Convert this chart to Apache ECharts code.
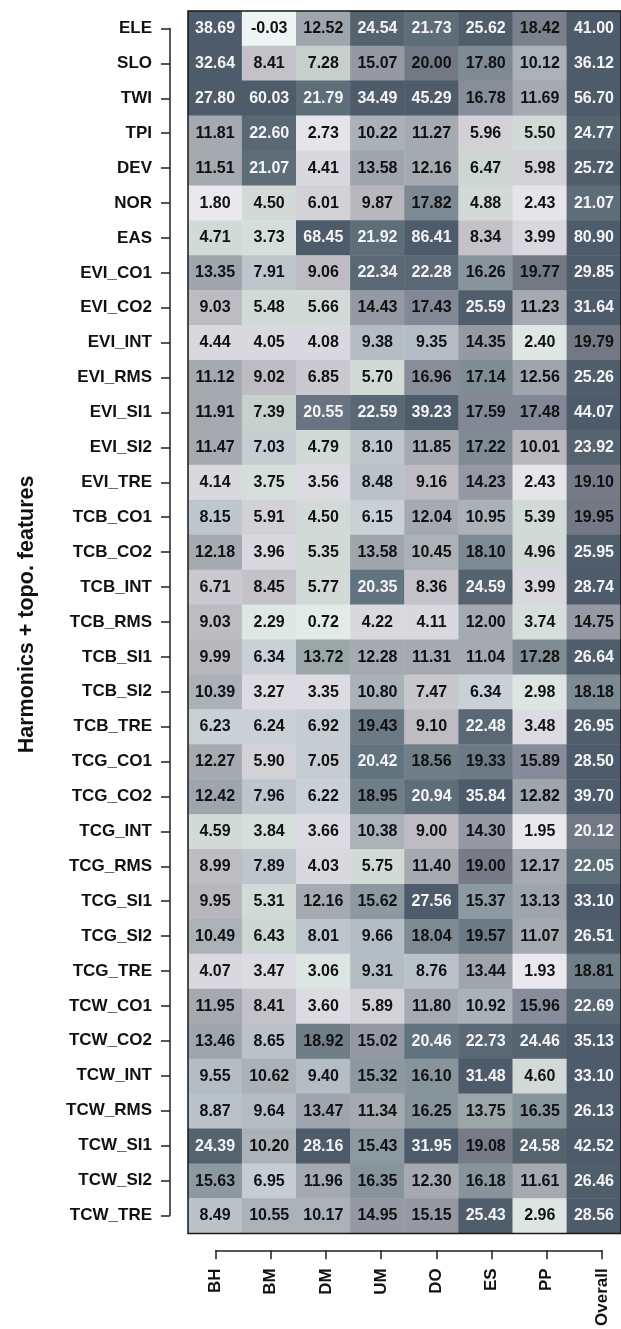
<!DOCTYPE html>
<html>
<head>
<meta charset="utf-8">
<script src="https://cdn.jsdelivr.net/npm/echarts@6/dist/echarts.min.js"></script>
<style>
html,body{margin:0;padding:0;background:#fff;}
#chart{width:621px;height:1329px;}
</style>
</head>
<body>
<div id="chart"></div>
<script>
const features = ['ELE','SLO','TWI','TPI','DEV','NOR','EAS','EVI_CO1','EVI_CO2','EVI_INT','EVI_RMS','EVI_SI1','EVI_SI2','EVI_TRE','TCB_CO1','TCB_CO2','TCB_INT','TCB_RMS','TCB_SI1','TCB_SI2','TCB_TRE','TCG_CO1','TCG_CO2','TCG_INT','TCG_RMS','TCG_SI1','TCG_SI2','TCG_TRE','TCW_CO1','TCW_CO2','TCW_INT','TCW_RMS','TCW_SI1','TCW_SI2','TCW_TRE'];
const groups = ['BH','BM','DM','UM','DO','ES','PP','Overall'];

const BH = [38.69,32.64,27.80,11.81,11.51,1.80,4.71,13.35,9.03,4.44,11.12,11.91,11.47,4.14,8.15,12.18,6.71,9.03,9.99,10.39,6.23,12.27,12.42,4.59,8.99,9.95,10.49,4.07,11.95,13.46,9.55,8.87,24.39,15.63,8.49];
const BM = [-0.03,8.41,60.03,22.60,21.07,4.50,3.73,7.91,5.48,4.05,9.02,7.39,7.03,3.75,5.91,3.96,8.45,2.29,6.34,3.27,6.24,5.90,7.96,3.84,7.89,5.31,6.43,3.47,8.41,8.65,10.62,9.64,10.20,6.95,10.55];
const DM = [12.52,7.28,21.79,2.73,4.41,6.01,68.45,9.06,5.66,4.08,6.85,20.55,4.79,3.56,4.50,5.35,5.77,0.72,13.72,3.35,6.92,7.05,6.22,3.66,4.03,12.16,8.01,3.06,3.60,18.92,9.40,13.47,28.16,11.96,10.17];
const UM = [24.54,15.07,34.49,10.22,13.58,9.87,21.92,22.34,14.43,9.38,5.70,22.59,8.10,8.48,6.15,13.58,20.35,4.22,12.28,10.80,19.43,20.42,18.95,10.38,5.75,15.62,9.66,9.31,5.89,15.02,15.32,11.34,15.43,16.35,14.95];
const DO = [21.73,20.00,45.29,11.27,12.16,17.82,86.41,22.28,17.43,9.35,16.96,39.23,11.85,9.16,12.04,10.45,8.36,4.11,11.31,7.47,9.10,18.56,20.94,9.00,11.40,27.56,18.04,8.76,11.80,20.46,16.10,16.25,31.95,12.30,15.15];
const ES = [25.62,17.80,16.78,5.96,6.47,4.88,8.34,16.26,25.59,14.35,17.14,17.59,17.22,14.23,10.95,18.10,24.59,12.00,11.04,6.34,22.48,19.33,35.84,14.30,19.00,15.37,19.57,13.44,10.92,22.73,31.48,13.75,19.08,16.18,25.43];
const PP = [18.42,10.12,11.69,5.50,5.98,2.43,3.99,19.77,11.23,2.40,12.56,17.48,10.01,2.43,5.39,4.96,3.99,3.74,17.28,2.98,3.48,15.89,12.82,1.95,12.17,13.13,11.07,1.93,15.96,24.46,4.60,16.35,24.58,11.61,2.96];
const Overall = [41.00,36.12,56.70,24.77,25.72,21.07,80.90,29.85,31.64,19.79,25.26,44.07,23.92,19.10,19.95,25.95,28.74,14.75,26.64,18.18,26.95,28.50,39.70,20.12,22.05,33.10,26.51,18.81,22.69,35.13,33.10,26.13,42.52,26.46,28.56];

// colour palette (styling): lower bounds of bins and their colours
const binBreaks = [0.5,1.5,2.1,2.42,2.9,3.15,3.7,3.9,4.47,5.85,6.1,6.38,6.6,6.9,7.15,7.42,7.8,8.25,8.46,8.93,9.25,9.75,10.05,11.0,12.4,13.6,14.0,15.2,15.8,16.0,16.6,17.0,17.3,17.7,18.2,18.5,19.0,19.2,19.7,20.2,20.5,20.7,22.2,23.5,25.0,27.0];
const binColors = ['#eef6f5','#e2ebe8','#e9e8ed','#dfe7e4','#e5e4e9','#dce5e2','#dcdbe1','#d6dedc','#d9d8de','#d2dad8','#d2d1d6','#c9d0d6','#ccd6d3','#cac9cf','#c5cdd3','#c6d0cc','#c8c7cc','#bec6cd','#c4c2c8','#bac2c9','#bebcc2','#b5bdc4','#b9b7bd','#aab1b7','#a4aab0','#9fa5ac','#9aa6a8','#9499a3','#8d99a0','#868c99','#88949b','#878e9a','#7f8c94','#828896','#7d8a93','#7b808d','#707e88','#777b88','#6c7a85','#737885','#627380','#6a7382','#5e6e79','#596874','#55636f','#505e6c','#4d5b6b'];

const columns = [BH, BM, DM, UM, DO, ES, PP, Overall];
const data = [];
columns.forEach((col, c) => col.forEach((v, r) => data.push({
  value: [c, r, v],
  label: {color: v > 20.05 ? '#f4f4f4' : '#111111'}
})));

const pieces = binColors.map((color, i) => {
  const p = {color};
  if (i > 0) p.gte = binBreaks[i - 1];
  if (i < binBreaks.length) p.lt = binBreaks[i];
  return p;
});

const FONT = 'Liberation Sans';
const cellW = 55.2, cellH = 34.93;
const gridLeft = 188, gridTop = 11;

const chart = echarts.init(document.getElementById('chart'), null, {renderer: 'canvas'});
chart.setOption({
  animation: false,
  backgroundColor: '#ffffff',
  textStyle: {fontFamily: FONT},
  grid: [
    {left: gridLeft, top: gridTop, width: cellW * groups.length, height: cellH * features.length,
     show: true, z: 10, backgroundColor: 'transparent', borderColor: '#1a1a1a', borderWidth: 1.5},
    {left: gridLeft + cellW / 2, top: gridTop + cellH / 2,
     width: cellW * (groups.length - 1), height: cellH * (features.length - 1)}
  ],
  xAxis: [
    {type: 'category', gridIndex: 0, data: groups, show: false},
    {type: 'category', gridIndex: 1, data: groups, boundaryGap: false, position: 'bottom', offset: 35,
     axisLine: {show: true, lineStyle: {color: '#222', width: 1.5}},
     axisTick: {show: true, length: 9, alignWithLabel: true, lineStyle: {color: '#222', width: 1.5}},
     axisLabel: {rotate: 90, margin: 18, fontSize: 17, fontWeight: 'bold', color: '#111', fontFamily: FONT},
     splitLine: {show: false}}
  ],
  yAxis: [
    {type: 'category', gridIndex: 0, data: features, inverse: true, show: false},
    {type: 'category', gridIndex: 1, data: features, inverse: true, boundaryGap: false, position: 'left', offset: 45.6,
     axisLine: {show: true, lineStyle: {color: '#222', width: 1.5}},
     axisTick: {show: true, length: 9, lineStyle: {color: '#222', width: 1.5}},
     axisLabel: {margin: 18, fontSize: 17, fontWeight: 'bold', color: '#111', fontFamily: FONT, interval: 0},
     splitLine: {show: false},
     name: 'Harmonics + topo. features', nameLocation: 'middle', nameRotate: 90, nameGap: 132,
     nameTextStyle: {fontSize: 21.5, fontWeight: 'bold', color: '#111', fontFamily: FONT, padding: [0, 0, 0, 15]}}
  ],
  visualMap: {
    type: 'piecewise', show: false, dimension: 2, seriesIndex: 0, pieces: pieces
  },
  series: [{
    type: 'heatmap', xAxisIndex: 0, yAxisIndex: 0, data: data,
    itemStyle: {borderWidth: 0},
    emphasis: {disabled: true},
    label: {
      show: true,
      fontSize: 16, fontWeight: 'bold', fontFamily: FONT,
      formatter: p => p.value[2].toFixed(2)
    }
  }]
});
</script>
</body>
</html>
